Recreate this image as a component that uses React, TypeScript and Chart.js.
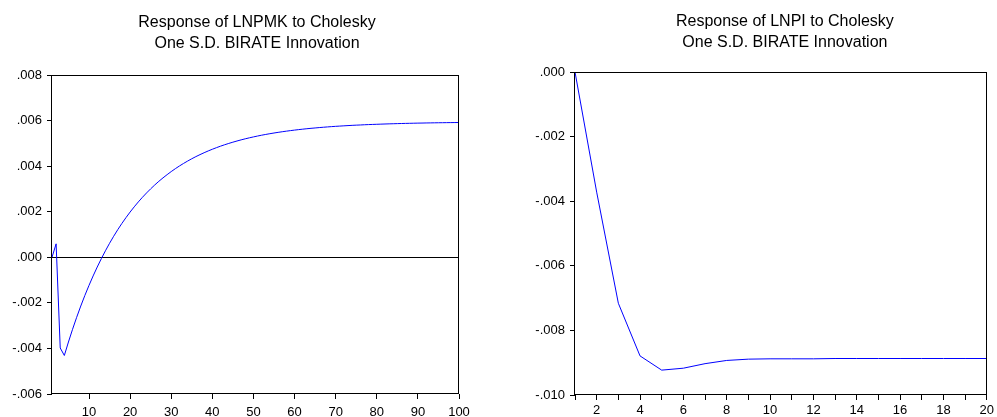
import React, { useEffect, useRef } from "react";
import { Chart, registerables } from "chart.js";

Chart.register(...registerables);

// ---------- Data ----------
const leftTitle = ["Response of LNPMK to Cholesky", "One S.D. BIRATE Innovation"];
const rightTitle = ["Response of LNPI to Cholesky", "One S.D. BIRATE Innovation"];

const leftPeriods: number[] = Array.from({ length: 100 }, (_, i) => i + 1);
const leftValues: number[] = [
  0.0, 0.00059, -0.00398, -0.00431, -0.003718, -0.00316, -0.002635, -0.002139, -0.001672, -0.001233,
  -0.000819, -0.000428, -0.00006, 0.000286, 0.000614, 0.000922, 0.001212, 0.001485, 0.001742, 0.001986,
  0.002214, 0.00243, 0.002633, 0.002824, 0.003004, 0.003175, 0.003335, 0.003486, 0.003627, 0.003762,
  0.003888, 0.004007, 0.004119, 0.004224, 0.004324, 0.004418, 0.004506, 0.004589, 0.004668, 0.004741,
  0.004811, 0.004877, 0.004939, 0.004997, 0.005052, 0.005104, 0.005153, 0.005199, 0.005242, 0.005283,
  0.005321, 0.005358, 0.005392, 0.005424, 0.005454, 0.005483, 0.00551, 0.005535, 0.005559, 0.005582,
  0.005603, 0.005623, 0.005642, 0.00566, 0.005676, 0.005692, 0.005707, 0.005721, 0.005735, 0.005747,
  0.005758, 0.005769, 0.00578, 0.00579, 0.005799, 0.005807, 0.005816, 0.005824, 0.005831, 0.005837,
  0.005844, 0.00585, 0.005856, 0.005861, 0.005866, 0.005871, 0.005876, 0.00588, 0.005884, 0.005888,
  0.005891, 0.005895, 0.005898, 0.005901, 0.005904, 0.005906, 0.005909, 0.005911, 0.005913, 0.005915,
];
const leftXTicks = [10, 20, 30, 40, 50, 60, 70, 80, 90, 100];
const leftYMin = -0.006;
const leftYMax = 0.008;
const leftYStep = 0.002;

const rightPeriods: number[] = Array.from({ length: 20 }, (_, i) => i + 1);
const rightValues: number[] = [
  0.0, -0.00372, -0.00716, -0.00879, -0.00923, -0.00917, -0.00903, -0.00893, -0.00889, -0.00888,
  -0.00888, -0.00888, -0.00887, -0.00887, -0.00887, -0.00887, -0.00887, -0.00887, -0.00887, -0.00887,
];
const rightXTicks = [1, 2, 3, 4, 5, 6, 7, 8, 9, 10, 11, 12, 13, 14, 15, 16, 17, 18, 19, 20];
const rightYMin = -0.01;
const rightYMax = 0.0;
const rightYStep = 0.002;

// ---------- Helpers ----------
const FONT = "'Liberation Sans', Arial, Helvetica, sans-serif";

function fmtY(v: number): string {
  let s = Math.abs(v) < 1e-12 ? "0.000" : v.toFixed(3);
  return s.replace("0.", ".");
}

const framePlugin = {
  id: "frame",
  beforeDatasetsDraw(chart: any, _a: any, opts: any) {
    const { ctx, chartArea, scales } = chart;
    ctx.save();
    if (opts.zeroLine) {
      const y = Math.round(scales.y.getPixelForValue(0)) + 0.5;
      ctx.strokeStyle = "#000";
      ctx.lineWidth = 1;
      ctx.beginPath();
      ctx.moveTo(chartArea.left, y);
      ctx.lineTo(chartArea.right, y);
      ctx.stroke();
    }
    ctx.restore();
  },
  afterDraw(chart: any, _a: any, opts: any) {
    const { ctx, chartArea } = chart;
    ctx.save();
    ctx.strokeStyle = "#000";
    ctx.lineWidth = 1;
    const l = Math.round(chartArea.left) - 0.5;
    const t = Math.round(chartArea.top) + 0.5;
    const r = Math.round(chartArea.right) - 0.5;
    const b = Math.round(chartArea.bottom) - 0.5;
    ctx.strokeRect(l, t, r - l, b - t);
    // titles
    const lines: string[] = opts.title || [];
    ctx.fillStyle = "#000";
    ctx.font = `16px ${FONT}`;
    ctx.textAlign = "center";
    ctx.textBaseline = "alphabetic";
    const cx = (chartArea.left + chartArea.right) / 2 + (opts.titleDx || 0);
    lines.forEach((ln, i) => {
      ctx.fillText(ln, cx, opts.titleBase + i * 21);
    });
    ctx.restore();
  },
};

function makeConfig(p: {
  xs: number[];
  ys: number[];
  xTicks: number[];
  xMin: number;
  xMax: number;
  yMin: number;
  yMax: number;
  yStep: number;
  xLabel: (v: number) => string;
  yWidth: number;
  xHeight: number;
  xPad: number;
  padRight: number;
  padTop: number;
  zeroLine: boolean;
  title: string[];
  titleBase: number;
  titleDx: number;
}): any {
  return {
    type: "line",
    data: {
      datasets: [
        {
          data: p.xs.map((x, i) => ({ x, y: p.ys[i] })),
          borderColor: "#0000ff",
          borderWidth: 1,
          pointRadius: 0,
          tension: 0,
          fill: false,
        },
      ],
    },
    options: {
      animation: false,
      responsive: false,
      maintainAspectRatio: false,
      layout: { padding: { left: 0, right: p.padRight, top: p.padTop, bottom: 0 } },
      plugins: {
        legend: { display: false },
        tooltip: { enabled: false },
        title: { display: false },
        frame: { zeroLine: p.zeroLine, title: p.title, titleBase: p.titleBase, titleDx: p.titleDx },
      },
      scales: {
        x: {
          type: "linear",
          min: p.xMin,
          max: p.xMax,
          afterBuildTicks: (s: any) => {
            s.ticks = p.xTicks.map((v) => ({ value: v }));
          },
          afterFit: (s: any) => {
            s.height = p.xHeight;
          },
          grid: {
            display: true,
            drawOnChartArea: false,
            drawTicks: true,
            tickLength: 5,
            tickColor: "#000",
            color: "#000",
          },
          border: { display: false },
          ticks: {
            autoSkip: false,
            maxRotation: 0,
            padding: p.xPad,
            color: "#000",
            font: { family: FONT, size: 13 },
            callback: (v: any) => p.xLabel(Number(v)),
          },
        },
        y: {
          type: "linear",
          min: p.yMin,
          max: p.yMax,
          ticks: {
            stepSize: p.yStep,
            padding: 5,
            color: "#000",
            font: { family: FONT, size: 13 },
            callback: (v: any) => fmtY(Number(v)),
          },
          afterFit: (s: any) => {
            s.width = p.yWidth;
          },
          grid: {
            display: true,
            drawOnChartArea: false,
            drawTicks: true,
            tickLength: 5,
            tickColor: "#000",
            color: "#000",
          },
          border: { display: false },
        },
      },
    },
    plugins: [framePlugin],
  };
}

function ChartCanvas({ width, height, left, config }: { width: number; height: number; left: number; config: () => any }) {
  const ref = useRef<HTMLCanvasElement | null>(null);
  useEffect(() => {
    if (!ref.current) return;
    const chart = new Chart(ref.current, config());
    return () => chart.destroy();
  }, []);
  return (
    <canvas
      ref={ref}
      width={width}
      height={height}
      style={{ position: "absolute", left, top: 0, width, height }}
    />
  );
}

export default function App() {
  return (
    <div style={{ position: "absolute", left: 0, top: 0, width: 997, height: 417, background: "#fff", overflow: "hidden" }}>
      <ChartCanvas
        width={497}
        height={417}
        left={0}
        config={() =>
          makeConfig({
            xs: leftPeriods,
            ys: leftValues,
            xTicks: leftXTicks,
            xMin: 1,
            xMax: 100,
            yMin: leftYMin,
            yMax: leftYMax,
            yStep: leftYStep,
            xLabel: (v) => String(v),
            yWidth: 52,
            xHeight: 23,
            xPad: 6,
            padRight: 38,
            padTop: 75,
            zeroLine: true,
            title: leftTitle,
            titleBase: 26.5,
            titleDx: 1.5,
          })
        }
      />
      <ChartCanvas
        width={500}
        height={417}
        left={497}
        config={() =>
          makeConfig({
            xs: rightPeriods,
            ys: rightValues,
            xTicks: rightXTicks,
            xMin: 1,
            xMax: 20,
            yMin: rightYMin,
            yMax: rightYMax,
            yStep: rightYStep,
            xLabel: (v) => (v % 2 === 0 ? String(v) : ""),
            yWidth: 78,
            xHeight: 22,
            xPad: 3,
            padRight: 8,
            padTop: 72,
            zeroLine: false,
            title: rightTitle,
            titleBase: 26,
            titleDx: 4,
          })
        }
      />
    </div>
  );
}
